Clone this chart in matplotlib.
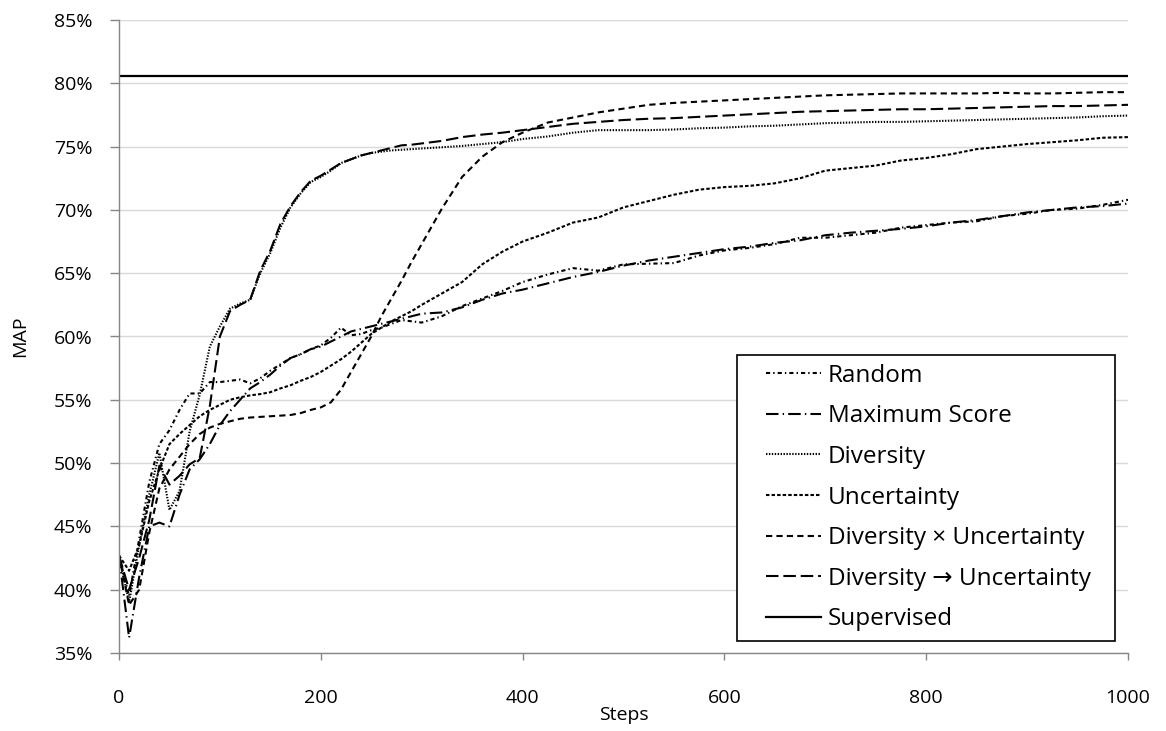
import matplotlib
matplotlib.use("Agg")
import matplotlib.pyplot as plt
from matplotlib.patches import Rectangle
from matplotlib.ticker import FuncFormatter, MultipleLocator

plt.rcParams['font.family'] = ['Open Sans', 'DejaVu Sans']
plt.rcParams['lines.scale_dashes'] = False

steps = [0, 10, 20, 30, 40, 50, 60, 70, 80, 90, 100, 110, 120, 130, 140, 150, 160, 170, 180, 190, 200,
         210, 220, 230, 240, 250, 260, 270, 280, 290, 300, 320, 340, 360, 380, 400,
         425, 450, 475, 500, 525, 550, 575, 600, 625, 650, 675, 700, 725, 750, 775, 800,
         825, 850, 875, 900, 925, 950, 975, 1000]

random_map = [42.7, 39.5, 44.0, 48.5, 51.5, 52.6, 54.2, 55.5, 55.5, 56.4, 56.4, 56.5, 56.6, 56.3, 56.7, 57.3, 57.8, 58.3, 58.6, 59.0, 59.3,
              59.9, 60.7, 60.1, 60.2, 60.5, 60.7, 61.0, 61.3, 61.2, 61.1, 61.6, 62.4, 63.0, 63.6, 64.3,
              64.9, 65.4, 65.2, 65.7, 65.75, 65.8, 66.4, 66.8, 67.0, 67.3, 67.8, 67.8, 68.0, 68.2, 68.6, 68.8,
              69.0, 69.1, 69.5, 69.7, 70.0, 70.1, 70.4, 70.8]

max_score = [42.7, 36.2, 41.0, 45.0, 45.3, 45.0, 47.5, 49.5, 50.3, 51.5, 53.0, 54.1, 55.0, 55.9, 56.4, 57.0, 57.7, 58.3, 58.6, 59.0, 59.2,
             59.6, 60.0, 60.4, 60.6, 60.8, 61.0, 61.2, 61.4, 61.6, 61.8, 61.9, 62.3, 62.9, 63.4, 63.7,
             64.2, 64.7, 65.1, 65.6, 66.0, 66.3, 66.6, 66.9, 67.1, 67.4, 67.6, 68.0, 68.2, 68.35, 68.5, 68.7,
             69.0, 69.2, 69.5, 69.8, 70.0, 70.2, 70.3, 70.5]

diversity = [42.7, 39.0, 43.5, 47.5, 50.8, 46.3, 47.8, 52.5, 55.4, 59.2, 60.8, 62.2, 62.6, 62.9, 65.0, 66.6, 68.6, 70.2, 71.3, 72.2, 72.6,
             73.1, 73.7, 74.0, 74.3, 74.5, 74.6, 74.7, 74.75, 74.8, 74.85, 74.95, 75.05, 75.2, 75.35, 75.6,
             75.8, 76.1, 76.3, 76.3, 76.3, 76.35, 76.45, 76.5, 76.6, 76.65, 76.75, 76.85, 76.9, 76.95, 76.95, 77.0,
             77.05, 77.1, 77.15, 77.2, 77.25, 77.3, 77.4, 77.45]

uncertainty = [42.7, 41.5, 43.5, 47.0, 49.5, 51.5, 52.3, 53.0, 53.7, 54.2, 54.6, 55.0, 55.2, 55.35, 55.45, 55.6, 55.9, 56.15, 56.5, 56.8, 57.2,
               57.7, 58.2, 58.8, 59.5, 60.2, 60.7, 61.2, 61.6, 62.0, 62.5, 63.4, 64.3, 65.7, 66.7, 67.5,
               68.2, 69.0, 69.4, 70.2, 70.7, 71.2, 71.6, 71.8, 71.9, 72.1, 72.5, 73.1, 73.3, 73.5, 73.9, 74.1,
               74.4, 74.8, 75.0, 75.2, 75.35, 75.5, 75.7, 75.75]

div_x_unc = [42.7, 38.8, 40.0, 44.5, 48.0, 49.5, 50.5, 51.5, 52.3, 52.8, 53.1, 53.3, 53.5, 53.6, 53.65, 53.7, 53.75, 53.8, 53.95, 54.2, 54.4,
             54.8, 55.8, 57.2, 58.6, 60.0, 61.6, 63.0, 64.4, 65.9, 67.3, 70.1, 72.6, 74.2, 75.35, 76.1,
             76.9, 77.3, 77.7, 78.0, 78.3, 78.45, 78.55, 78.65, 78.75, 78.85, 78.95, 79.05, 79.1, 79.15, 79.2, 79.2,
             79.2, 79.2, 79.25, 79.2, 79.2, 79.25, 79.3, 79.3]

div_then_unc = [42.7, 40.0, 42.5, 45.5, 49.8, 48.3, 49.0, 49.9, 50.4, 54.5, 60.0, 62.0, 62.5, 62.9, 65.2, 66.8, 68.9, 70.3, 71.4, 72.3, 72.7,
                73.2, 73.7, 74.0, 74.3, 74.5, 74.7, 74.9, 75.1, 75.15, 75.25, 75.45, 75.75, 75.95, 76.1, 76.3,
                76.55, 76.8, 76.95, 77.1, 77.2, 77.25, 77.35, 77.45, 77.55, 77.65, 77.75, 77.8, 77.85, 77.9, 77.95, 77.95,
                78.0, 78.05, 78.1, 78.15, 78.2, 78.2, 78.25, 78.3]

supervised = 80.6

series_labels = ["Random", "Maximum Score", "Diversity", "Uncertainty",
                 "Diversity \u00d7 Uncertainty", "Diversity \u2192 Uncertainty", "Supervised"]

W, H = 1166, 731
fig = plt.figure(figsize=(W/100, H/100), dpi=100)
ax = fig.add_axes([119/W, 1 - 653/H, (1128 - 119)/W, (653 - 20)/H])

lw = 1.5
ax.plot(steps, random_map, color='black', lw=lw, linestyle=(0, (3, 2.2, 1, 2.2)), label=series_labels[0])
ax.plot(steps, max_score, color='black', lw=lw, linestyle=(0, (9, 3, 1, 3)), label=series_labels[1])
ax.plot(steps, diversity, color='black', lw=lw, linestyle=(0, (1, 1.1)), label=series_labels[2])
ax.plot(steps, uncertainty, color='black', lw=lw, linestyle=(0, (2.5, 1.5)), label=series_labels[3])
ax.plot(steps, div_x_unc, color='black', lw=lw, linestyle=(0, (4.5, 3)), label=series_labels[4])
ax.plot(steps, div_then_unc, color='black', lw=lw, linestyle=(0, (9, 3.5)), label=series_labels[5])
ax.plot([steps[0], steps[-1]], [supervised, supervised], color='black', lw=1.6, linestyle='-', label=series_labels[6])

ax.set_xlim(0, 1000)
ax.set_ylim(35, 85)
ax.xaxis.set_major_locator(MultipleLocator(200))
ax.yaxis.set_major_locator(MultipleLocator(5))
ax.yaxis.set_major_formatter(FuncFormatter(lambda v, p: f"{v:.0f}%"))

ax.grid(axis='y', color='#d9d9d9', lw=1.0)
ax.set_axisbelow(True)
for s in ['top', 'right']:
    ax.spines[s].set_visible(False)
for s in ['left', 'bottom']:
    ax.spines[s].set_color('#868686')
    ax.spines[s].set_linewidth(1.0)

ax.tick_params(axis='y', length=6.5, width=1, color='#868686', pad=12.5, labelsize=14)
ax.tick_params(axis='x', length=5, width=1, color='#868686', pad=21, labelsize=14)

ax.set_ylabel("MAP", fontsize=14, labelpad=18)
ax.set_xlabel("Steps", fontsize=14, labelpad=-1)

# legend frame drawn at fixed figure position, below the legend entries
frame = Rectangle((737/W, 1 - 641/H), (1115 - 737)/W, (641 - 355)/H,
                  transform=fig.transFigure, facecolor='white', edgecolor='black',
                  lw=1.2, zorder=8, clip_on=False)
ax.add_artist(frame)
leg = ax.legend(loc='center left', bbox_to_anchor=(766/W, 1 - 497.5/H),
                bbox_transform=fig.transFigure, borderaxespad=0, borderpad=0,
                fontsize=17.5, frameon=False, handlelength=2.27, handletextpad=0.28,
                labelspacing=0.68)
leg.set_zorder(10)

fig.savefig("out.png", dpi=100)
